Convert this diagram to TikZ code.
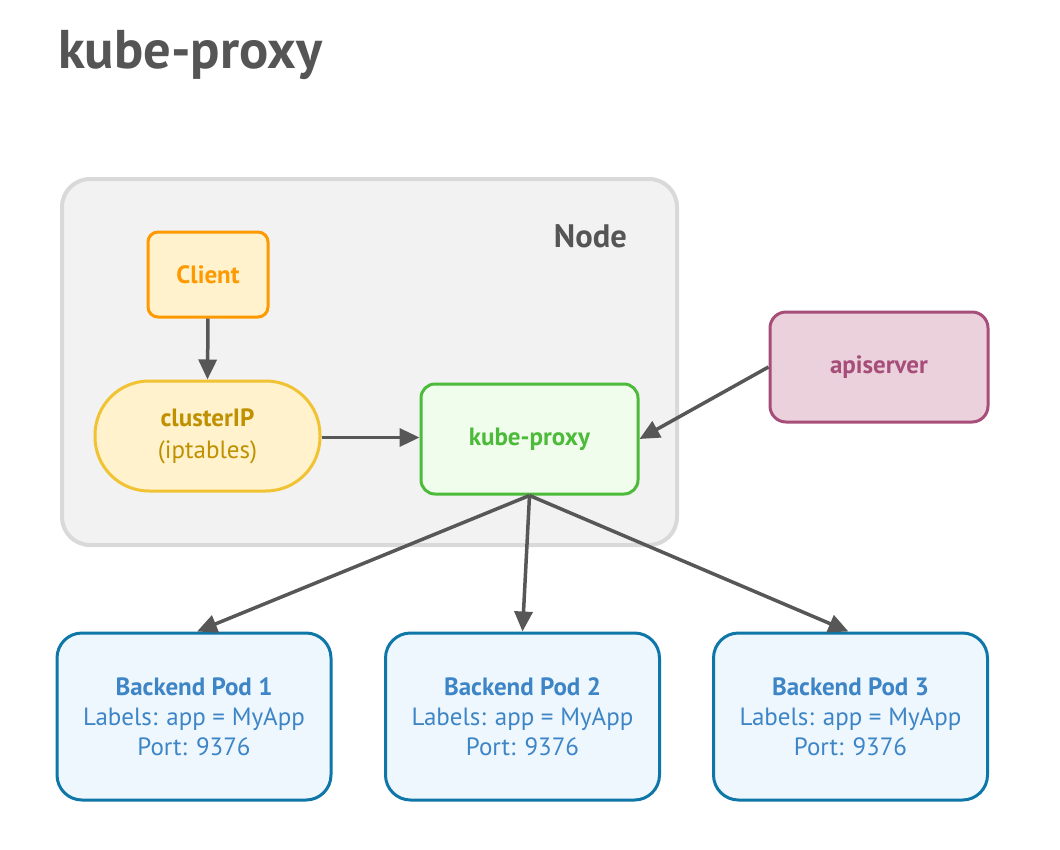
\documentclass[tikz,border=0pt]{standalone}
\usepackage{fontspec}
\setmainfont{PT Sans}
\usetikzlibrary{arrows.meta}
\definecolor{titlegray}{HTML}{555555}
\definecolor{arrowgray}{HTML}{575757}
\definecolor{nodefill}{HTML}{F2F2F2}
\definecolor{nodeborder}{HTML}{D9D9D9}
\definecolor{clientborder}{HTML}{FF9900}
\definecolor{clientfill}{HTML}{FFF2CC}
\definecolor{ipborder}{HTML}{F1C232}
\definecolor{iptext}{HTML}{BF9000}
\definecolor{kpborder}{HTML}{4CBB3A}
\definecolor{kpfill}{HTML}{F0FCEC}
\definecolor{apiborder}{HTML}{A64D79}
\definecolor{apifill}{HTML}{EAD1DC}
\definecolor{podborder}{HTML}{0E77A8}
\definecolor{podfill}{HTML}{EEF7FD}
\definecolor{podtext}{HTML}{3D85C6}
\tikzset{
  box/.style={draw, line width=3pt, align=center, inner sep=0pt},
  clientbox/.style={box, draw=clientborder, fill=clientfill, text=clientborder, rounded corners=10pt, minimum width=120pt, minimum height=85pt, font=\fontsize{25}{30}\selectfont\bfseries},
  ipbox/.style={box, draw=ipborder, fill=clientfill, text=iptext, rounded corners=54pt, minimum width=225pt, minimum height=110pt, font=\fontsize{25}{32}\selectfont},
  kpbox/.style={box, draw=kpborder, fill=kpfill, text=kpborder, rounded corners=14pt, minimum width=217pt, minimum height=110pt, font=\fontsize{25}{30}\selectfont\bfseries},
  apibox/.style={box, draw=apiborder, fill=apifill, text=apiborder, rounded corners=16pt, minimum width=218pt, minimum height=110pt, font=\fontsize{25}{30}\selectfont\bfseries},
  podbox/.style={box, draw=podborder, fill=podfill, text=podtext, rounded corners=25pt, minimum width=274pt, minimum height=167pt, font=\fontsize{25}{30}\selectfont},
  arr/.style={draw=arrowgray, line width=3.5pt, -{Triangle[length=20pt,width=18pt]}}
}
\begin{document}
\begin{tikzpicture}[x=1pt,y=-1pt]
\useasboundingbox[fill=white] (0,0) rectangle (1060,849);
\node[anchor=base west, text=titlegray, font=\fontsize{54.5}{60}\selectfont\bfseries, inner sep=0pt] (title) at (58,68) {kube-proxy};
\node[draw=nodeborder, fill=nodefill, line width=4pt, rounded corners=28pt, minimum width=615pt, minimum height=366pt, inner sep=0pt] (nodebox) at (369.5,362) {};
\node[anchor=east, text=titlegray, font=\fontsize{32.5}{36}\selectfont\bfseries, inner sep=0pt] (nodelabel) at (627,236) {Node};
\node[clientbox] (client) at (208,274.5) {Client};
\node[ipbox] (cip) at (207.5,436) {\textbf{clusterIP}\\(iptables)};
\node[kpbox] (kp) at (529.5,439) {kube-proxy};
\node[apibox] (api) at (879,367) {apiserver};
\node[podbox] (pod1) at (194,716.5) {\textbf{Backend Pod 1}\\Labels: app = MyApp\\Port: 9376};
\node[podbox] (pod2) at (522.5,716.5) {\textbf{Backend Pod 2}\\Labels: app = MyApp\\Port: 9376};
\node[podbox] (pod3) at (850.5,716.5) {\textbf{Backend Pod 3}\\Labels: app = MyApp\\Port: 9376};
\draw[arr] (client.south) -- (cip.north);
\draw[arr] (cip.east) ++(0,1.5) coordinate (ca) -- (kp.west |- ca);
\draw[arr] (api.west) -- (kp.east);
\draw[arr] (kp.south) -- ([xshift=3pt]pod1.north);
\draw[arr] (kp.south) -- (pod2.north);
\draw[arr] (kp.south) -- ([xshift=-2pt]pod3.north);
\end{tikzpicture}
\end{document}
